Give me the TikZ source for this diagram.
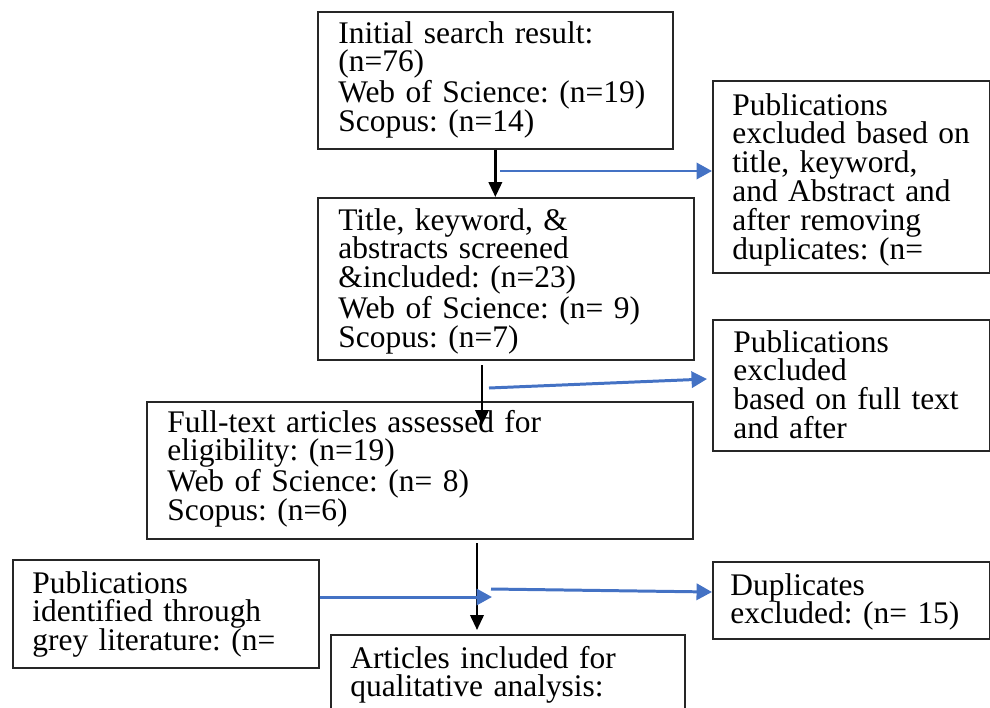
\documentclass[tikz,border=0pt]{standalone}
\usepackage{fontspec}
\setmainfont{Liberation Serif}
\usetikzlibrary{arrows.meta,calc}
\definecolor{flowblue}{RGB}{68,114,196}
\frenchspacing
\begin{document}
\begin{tikzpicture}[x=0.02cm, y=-0.02cm,
  box/.style={draw=black!85, line width=1pt, rectangle, inner sep=0pt, anchor=north west},
  txt/.style={anchor=base west, inner sep=0pt, text width=9cm, align=left,
    font=\fontsize{17.9pt}{16.4pt}\selectfont},
  down/.style={-{Triangle[width=7.6pt,length=8.5pt]}, line width=1.4pt},
  side/.style={-{Triangle[width=9.2pt,length=8.8pt]}, line width=1.7pt, flowblue}]
 \useasboundingbox (0,0) rectangle (990,707);
 \node[box, minimum width=7.10cm, minimum height=2.74cm] (init) at (317,11) {};
 \node[box, minimum width=5.54cm, minimum height=3.84cm] (excl1) at (712,80) {};
 \node[box, minimum width=7.52cm, minimum height=3.24cm] (title) at (317,197) {};
 \node[box, minimum width=5.54cm, minimum height=2.62cm] (excl2) at (712,319) {};
 \node[box, minimum width=10.92cm, minimum height=2.74cm] (full) at (146,401) {};
 \node[box, minimum width=6.12cm, minimum height=2.16cm] (grey) at (12,559) {};
 \node[box, minimum width=5.54cm, minimum height=1.54cm] (dup) at (712,561) {};
 \node[box, minimum width=7.08cm, minimum height=2.40cm] (arts) at (330,634) {};
 \node[txt] (initt) at ($(init.north west)+(21,32)$)
  {Initial search result:\\(n=76)\\Web of Science: (n=19)\\Scopus: (n=14)};
 \node[txt] (excl1t) at ($(excl1.north west)+(20,35)$)
  {Publications\\excluded based on\\title, keyword,\\and Abstract and\\after removing\\duplicates: (n=};
 \node[txt] (titlet) at ($(title.north west)+(21,33)$)
  {Title, keyword, \&\\abstracts screened\\\&included: (n=23)\\Web of Science: (n= 9)\\Scopus: (n=7)};
 \node[txt] (excl2t) at ($(excl2.north west)+(21,33)$)
  {Publications\\excluded\\based on full text\\and after};
 \node[txt] (fullt) at ($(full.north west)+(21,31)$)
  {Full-text articles assessed for\\eligibility: (n=19)\\Web of Science: (n= 8)\\Scopus: (n=6)};
 \node[txt] (greyt) at ($(grey.north west)+(20,34)$)
  {Publications\\identified through\\grey literature: (n=};
 \node[txt] (dupt) at ($(dup.north west)+(18,34)$)
  {Duplicates\\excluded: (n= 15)};
 \node[txt] (artst) at ($(arts.north west)+(20,34)$)
  {Articles included for\\qualitative analysis:};
 \draw[down] (init.south) -- (init.south |- title.north);
 \coordinate (a1) at (500,171);
 \draw[side] (a1) -- (a1 -| excl1.west);
 \coordinate (b1) at (482,365);
 \coordinate (b2) at (482,425);
 \draw[down] (b1) -- (b2);
 \coordinate (a2) at (489,388);
 \coordinate (a3) at (707,379);
 \draw[side] (a2) -- (a3);
 \coordinate (b3) at (477,543);
 \coordinate (b4) at (477,630);
 \draw[down] (b3) -- (b4);
 \coordinate (a4) at (492,597);
 \draw[side] (a4 -| grey.east) -- (a4);
 \coordinate (a5) at (491,589);
 \coordinate (a6) at (712,592);
 \draw[side] (a5) -- (a6);
\end{tikzpicture}
\end{document}
